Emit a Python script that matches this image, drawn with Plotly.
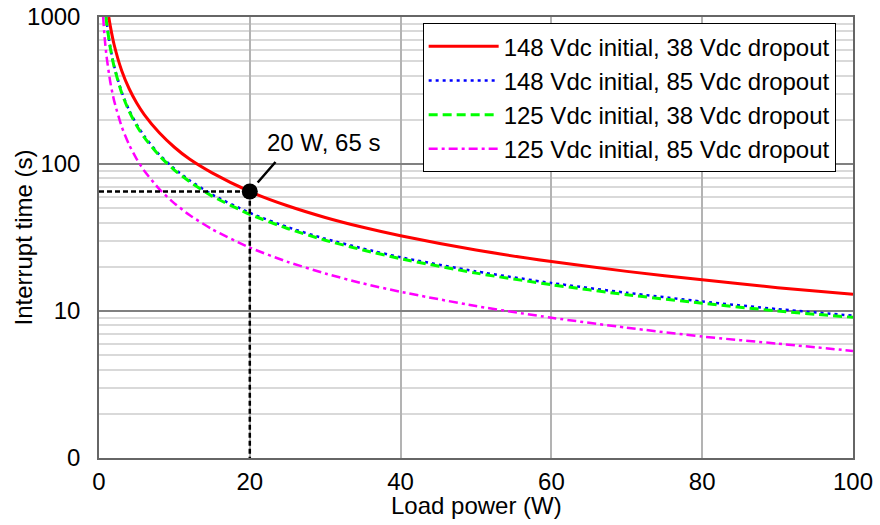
import plotly.graph_objects as go
import math

# ---- data ----
red_x = [1.3, 1.5, 2, 3, 4, 5, 6, 8, 10, 12, 15, 20, 25, 30, 35, 40, 50, 60, 70, 80, 90, 100]
red_y = [1000, 867, 650, 433, 325, 260, 217, 163, 130, 108, 87, 65, 52, 43.3, 37.1, 32.5, 26, 21.7, 18.6, 16.3, 14.4, 13.0]

blue_x = [0.93, 1, 1.5, 2, 3, 4, 5, 6, 8, 10, 12, 15, 20, 25, 30, 35, 40, 50, 60, 70, 80, 90, 100]
blue_y = [1000, 930, 620, 465, 310, 232, 186, 155, 116, 93, 77.5, 62, 46.5, 37.2, 31, 26.6, 23.2, 18.6, 15.5, 13.3, 11.6, 10.3, 9.3]

green_x = [0.92, 1, 1.5, 2, 3, 4, 5, 6, 8, 10, 12, 15, 20, 25, 30, 35, 40, 50, 60, 70, 80, 90, 100]
green_y = [1000, 920, 615, 460, 305, 228, 182, 152, 114, 91, 76, 60.5, 45.5, 36.4, 30.3, 26, 22.7, 18.1, 15.1, 12.9, 11.3, 10.0, 9.05]

mag_x = [0.55, 0.75, 1, 1.5, 2, 3, 4, 5, 6, 8, 10, 12, 15, 20, 25, 30, 35, 40, 50, 60, 70, 80, 90, 100]
mag_y = [1000, 720, 540, 360, 270, 180, 135, 108, 90, 67.5, 54, 45, 36, 27, 21.6, 18, 15.4, 13.5, 10.8, 9.0, 7.7, 6.7, 6.0, 5.35]

series_names = [
    "148 Vdc initial, 38 Vdc dropout",
    "148 Vdc initial, 85 Vdc dropout",
    "125 Vdc initial, 38 Vdc dropout",
    "125 Vdc initial, 85 Vdc dropout",
]

point_x = [20]
point_y = [65]
point_label = "20 W, 65 s"

x_ticks = [0, 20, 40, 60, 80, 100]
y_ticks = [1, 10, 100, 1000]
y_ticktext = ["0", "10", "100", "1000"]
y_minor = [m * d for d in (1, 10, 100) for m in range(2, 10)]

x_title = "Load power (W)"
y_title = "Interrupt time (s)"

FONT = "Liberation Sans, Arial, sans-serif"
FS = 24

fig = go.Figure()

styles = [
    dict(color="#FF0000", width=3, dash="solid"),
    dict(color="#0000FF", width=2.5, dash="3px,4px"),
    dict(color="#00FF00", width=3, dash="9px,5px"),
    dict(color="#FF00FF", width=2.5, dash="9px,4px,3px,4px"),
]
data = [(red_x, red_y), (blue_x, blue_y), (green_x, green_y), (mag_x, mag_y)]
for (xs, ys), name, st in zip(data, series_names, styles):
    fig.add_trace(go.Scatter(x=xs, y=ys, mode="lines", name=name,
                             line=dict(shape="spline", smoothing=0.6, **st)))

# guide lines to the marked point
fig.add_trace(go.Scatter(
    x=[x_ticks[0], point_x[0], point_x[0]],
    y=[point_y[0], point_y[0], y_ticks[0]],
    mode="lines", line=dict(color="black", width=2.5, dash="5px,3px"),
    showlegend=False, hoverinfo="skip"))
fig.add_trace(go.Scatter(
    x=point_x, y=point_y, mode="markers",
    marker=dict(color="black", size=16), showlegend=False))

fig.add_annotation(x=point_x[0], y=math.log10(point_y[0]), text="",
                   showarrow=True, arrowhead=0, arrowwidth=2.5, arrowcolor="black",
                   ax=27, ay=-31, standoff=12)
fig.add_annotation(x=point_x[0], y=math.log10(point_y[0]), text=point_label,
                   showarrow=False, xshift=74, yshift=49,
                   font=dict(family=FONT, size=FS, color="black"))

# axis titles
fig.add_annotation(x=0.5, y=0, xref="paper", yref="paper", text=x_title,
                   showarrow=False, yanchor="middle", yshift=-47,
                   font=dict(family=FONT, size=FS, color="black"))
fig.add_annotation(x=0, y=0.5, xref="paper", yref="paper", text=y_title,
                   showarrow=False, xanchor="center", textangle=-90, xshift=-76,
                   font=dict(family=FONT, size=FS, color="black"))

fig.update_layout(
    width=880, height=525,
    margin=dict(l=99, r=27, t=17, b=67),
    paper_bgcolor="white", plot_bgcolor="white",
    font=dict(family=FONT, size=FS, color="black"),
    legend=dict(x=0.977, y=0.986, xanchor="right", yanchor="top",
                bgcolor="white", bordercolor="black", borderwidth=1,
                font=dict(family=FONT, size=FS, color="black"),
                itemwidth=70, tracegroupgap=0),
    xaxis=dict(range=[0, 100], tickvals=x_ticks, showgrid=True,
               gridcolor="#b3b3b3", gridwidth=1.5, automargin=False,
               ticklabeloverflow="allow",
               showline=True, linecolor="#666666", linewidth=1.5, mirror=True,
               ticks="", zeroline=False, ticklabelstandoff=1),
    yaxis=dict(type="log", range=[0, 3], tickvals=y_ticks, ticktext=y_ticktext,
               showgrid=True, gridcolor="#808080", gridwidth=1.5, automargin=False,
               ticklabeloverflow="allow",
               minor=dict(tickvals=y_minor, showgrid=True, gridcolor="#d9d9d9",
                          gridwidth=1.5, ticks=""),
               showline=True, linecolor="#666666", linewidth=1.5, mirror=True,
               ticks="", zeroline=False, ticklabelstandoff=12),
)

fig.write_html("out.html", config={"displayModeBar": False},
               post_script="document.body.style.margin='0';document.body.style.overflow='hidden';")
